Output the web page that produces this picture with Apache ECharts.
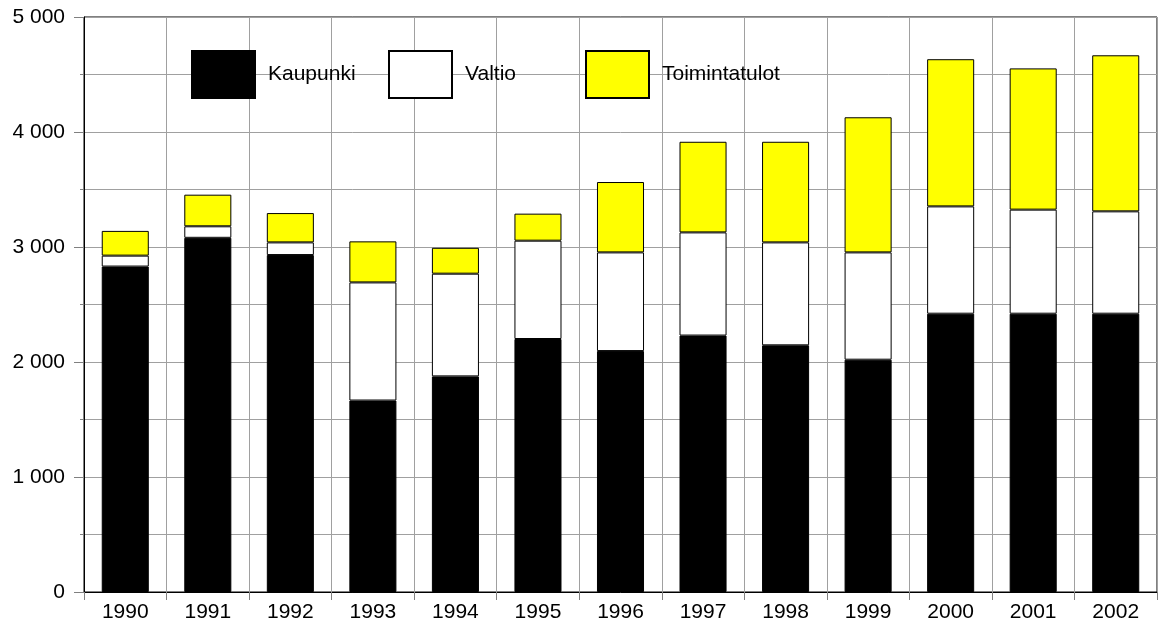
<!DOCTYPE html>
<html>
<head>
<meta charset="utf-8">
<script src="https://cdn.jsdelivr.net/npm/echarts@6/dist/echarts.min.js"></script>
<style>
  html, body { margin: 0; padding: 0; background: #fff; }
  #main { width: 1158px; height: 623px; }
</style>
</head>
<body>
<div id="main"></div>
<script>
const years = ['1990','1991','1992','1993','1994','1995','1996','1997','1998','1999','2000','2001','2002'];
const kaupunki = [2830, 3080, 2930, 1665, 1875, 2200, 2095, 2230, 2145, 2020, 2420, 2420, 2420];
const valtio = [95, 100, 110, 1027, 893, 855, 858, 897, 895, 933, 933, 905, 890];
const toimintatulot = [215, 275, 255, 357, 225, 235, 612, 788, 875, 1175, 1280, 1228, 1357];
const yTicks = [0, 1000, 2000, 3000, 4000, 5000];

const font = "'Liberation Sans', Arial, sans-serif";
const gridGrey = '#a0a0a0';

var myChart = echarts.init(document.getElementById('main'));

function legendAt(left, name) {
  return {
    left: left,
    top: 50,
    padding: 0,
    itemWidth: 63,
    itemHeight: 47,
    icon: 'rect',
    selectedMode: false,
    data: [name],
    textStyle: {
      fontFamily: font,
      fontSize: 21,
      color: '#000',
      padding: [0, 0, 0, 8]
    }
  };
}

function barSeries(name, data, color) {
  return {
    name: name,
    type: 'bar',
    stack: 'total',
    barWidth: '57%',
    data: data,
    itemStyle: {
      color: color,
      borderColor: '#000',
      borderWidth: 1
    }
  };
}

var option = {
  animation: false,
  backgroundColor: '#fff',
  legend: [
    legendAt(191, 'Kaupunki'),
    legendAt(388, 'Valtio'),
    legendAt(585, 'Toimintatulot')
  ],
  grid: {
    left: 84,
    right: 1,
    top: 17,
    bottom: 31,
    show: true,
    borderColor: '#000',
    borderWidth: 1
  },
  xAxis: {
    type: 'category',
    data: years,
    axisLine: { show: true, lineStyle: { color: '#000', width: 1 } },
    axisTick: { show: true, length: 8, lineStyle: { color: '#808080' } },
    splitLine: { show: true, lineStyle: { color: gridGrey, width: 1 } },
    axisLabel: {
      margin: 10,
      fontFamily: font,
      fontSize: 21,
      color: '#000'
    }
  },
  yAxis: {
    type: 'value',
    min: yTicks[0],
    max: yTicks[yTicks.length - 1],
    interval: 1000,
    axisLine: { show: true, lineStyle: { color: '#000', width: 1 } },
    axisTick: { show: true, length: 10, lineStyle: { color: '#808080' } },
    minorTick: { show: true, splitNumber: 2, length: 4, lineStyle: { color: '#808080' } },
    splitLine: { show: true, lineStyle: { color: gridGrey, width: 1 } },
    minorSplitLine: { show: true, lineStyle: { color: gridGrey, width: 1 } },
    axisLabel: {
      margin: 19,
      fontFamily: font,
      fontSize: 21,
      color: '#000',
      formatter: function (v) {
        return String(v).replace(/\B(?=(\d{3})+(?!\d))/g, ' ');
      }
    }
  },
  series: [
    barSeries('Kaupunki', kaupunki, '#000000'),
    barSeries('Valtio', valtio, '#ffffff'),
    barSeries('Toimintatulot', toimintatulot, '#ffff00')
  ]
};

option && myChart.setOption(option);
</script>
</body>
</html>
